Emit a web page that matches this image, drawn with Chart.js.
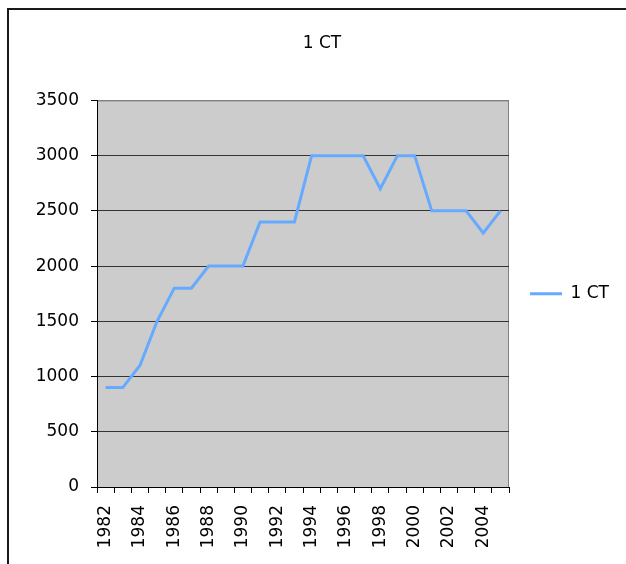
<!DOCTYPE html>
<html>
<head>
    <title>1 CT</title>
    <script src="https://cdn.jsdelivr.net/npm/chart.js"></script>
    <style>
        body { margin: 0; background: #fff; }
        #wrap { position: relative; width: 626px; height: 564px; }
    </style>
</head>
<body>
    <div id="wrap">
        <canvas id="myChart" width="626" height="564"></canvas>
    </div>

    <script>
        // Datos
        const years = ['1982', '1983', '1984', '1985', '1986', '1987', '1988', '1989',
                       '1990', '1991', '1992', '1993', '1994', '1995', '1996', '1997',
                       '1998', '1999', '2000', '2001', '2002', '2003', '2004', '2005'];
        const ct1 = [900, 900, 1100, 1500, 1800, 1800, 2000, 2000,
                     2000, 2400, 2400, 2400, 3000, 3000, 3000, 3000,
                     2700, 3000, 3000, 2500, 2500, 2500, 2300, 2500];
        const yTicks = [0, 500, 1000, 1500, 2000, 2500, 3000, 3500];

        const FONT = 'DejaVu Sans';
        Chart.defaults.font.family = FONT;
        Chart.defaults.font.size = 17;
        Chart.defaults.color = '#000';

        // Fondo gris del área y marco exterior
        const frame = {
            id: 'frame',
            beforeDraw(chart) {
                const { ctx, chartArea: a } = chart;
                ctx.save();
                ctx.fillStyle = '#1a1a1a';
                ctx.fillRect(7, 8, 619, 2);
                ctx.fillRect(7, 8, 2, 556);
                ctx.fillStyle = '#cccccc';
                ctx.fillRect(a.left, a.top, a.right - a.left, a.bottom - a.top);
                ctx.strokeStyle = '#808080';
                ctx.lineWidth = 1;
                ctx.beginPath();
                ctx.moveTo(a.left, a.top + 0.5);
                ctx.lineTo(a.right - 0.5, a.top + 0.5);
                ctx.lineTo(a.right - 0.5, a.bottom);
                ctx.stroke();
                ctx.restore();
            }
        };

        const ctx = document.getElementById('myChart').getContext('2d');
        new Chart(ctx, {
            type: 'line',
            data: {
                labels: years,
                datasets: [{
                    label: '1 CT',
                    data: ct1,
                    borderColor: '#66aaff',
                    backgroundColor: '#66aaff',
                    borderWidth: 3,
                    pointRadius: 0,
                    tension: 0,
                    fill: false
                }]
            },
            options: {
                responsive: false,
                animation: false,
                layout: { padding: { left: 25, right: 7, top: 0, bottom: 0 } },
                plugins: {
                    title: {
                        display: true,
                        text: '1 CT',
                        font: { size: 17, weight: 'normal' },
                        padding: { top: 33, bottom: 47 }
                    },
                    legend: {
                        position: 'right',
                        fullSize: false,
                        labels: {
                            usePointStyle: true,
                            pointStyle: 'line',
                            pointStyleWidth: 32,
                            boxWidth: 32,
                            padding: 21,
                            font: { size: 17 }
                        }
                    },
                    tooltip: { enabled: false }
                },
                scales: {
                    x: {
                        offset: true,
                        afterFit(scale) { scale.height = 77; },
                        grid: {
                            offset: true,
                            drawOnChartArea: false,
                            tickLength: 6,
                            color: '#000'
                        },
                        border: { color: '#000', width: 1 },
                        ticks: {
                            autoSkip: false,
                            minRotation: 90,
                            maxRotation: 90,
                            padding: 12,
                            callback(v, i) { return i % 2 === 0 ? years[i] : ''; }
                        }
                    },
                    y: {
                        min: yTicks[0],
                        max: yTicks[yTicks.length - 1],
                        afterFit(scale) { scale.width = 72; },
                        afterBuildTicks(scale) { scale.ticks = yTicks.map(v => ({ value: v })); },
                        grid: {
                            tickLength: 6,
                            tickColor: '#000',
                            color: c => (c.tick && c.tick.value === 3500) ? '#808080' : '#333'
                        },
                        border: { color: '#000', width: 1 },
                        ticks: {
                            padding: 12,
                            callback: v => String(v)
                        }
                    }
                }
            },
            plugins: [frame]
        });
    </script>
</body>
</html>
